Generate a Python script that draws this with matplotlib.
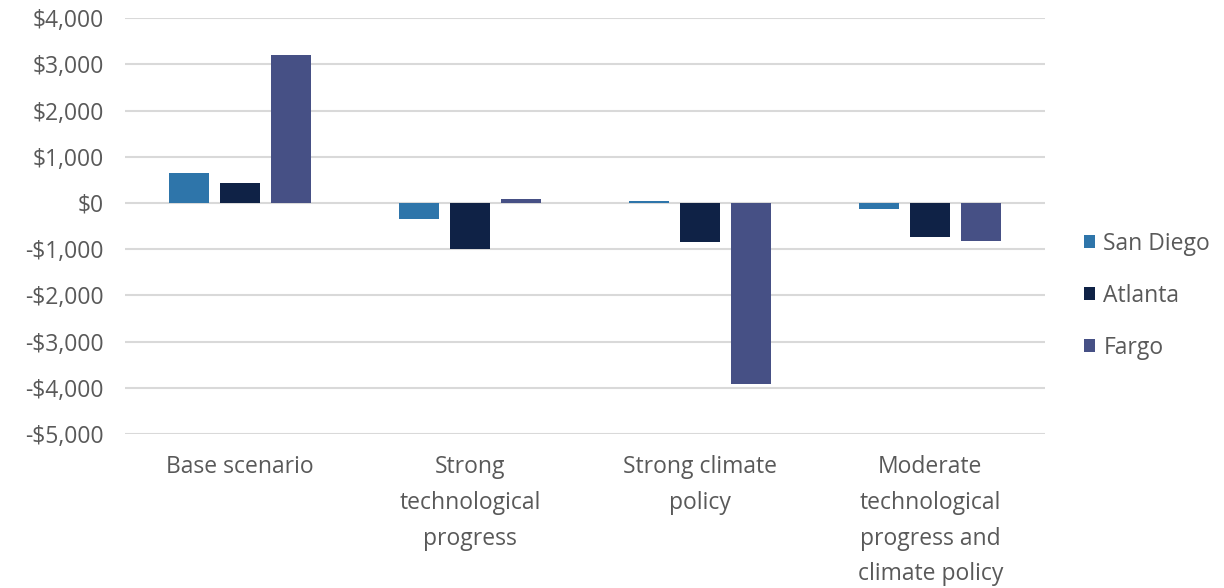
import numpy as np
import matplotlib.pyplot as plt
from matplotlib.ticker import FuncFormatter

plt.rcParams['font.family'] = ['Open Sans', 'DejaVu Sans']

# data
scenarios = ["Base scenario", "Strong\ntechnological\nprogress",
             "Strong climate\npolicy",
             "Moderate\ntechnological\nprogress and\nclimate policy"]
san_diego = [660, -340, 40, -120]
atlanta = [425, -1000, -840, -740]
fargo = [3200, 90, -3910, -830]

series = [("San Diego", san_diego, "#2E75AA"),
          ("Atlanta", atlanta, "#0F2246"),
          ("Fargo", fargo, "#465085")]

fig = plt.figure(figsize=(12.24, 5.88), dpi=100)
ax = fig.add_axes([0.102, 0.262, 0.752, 0.707])

x = np.arange(len(scenarios))
w = 0.173
step = 0.222
for i, (name, vals, col) in enumerate(series):
    ax.bar(x + (i - 1) * step, vals, width=w, color=col, label=name,
           zorder=3)

ax.set_ylim(-5000, 4000)
ax.set_yticks(np.arange(-5000, 4001, 1000))
ax.yaxis.set_major_formatter(FuncFormatter(
    lambda v, p: ("-$" if v < 0 else "$") + f"{abs(int(v)):,}"))
ax.set_xlim(-0.5, 3.5)
ax.set_xticks(x)
ax.set_xticklabels(scenarios, linespacing=1.66, va='top')

ax.grid(axis='y', color='#D9D9D9', linewidth=1.5, zorder=0)
for s in ax.spines.values():
    s.set_visible(False)
ax.tick_params(axis='both', length=0, labelsize=16.5, colors='#595959')
ax.tick_params(axis='y', pad=15)
ax.tick_params(axis='x', pad=15)

fig.legend(loc='center left', bbox_to_anchor=(0.869, 0.497), frameon=False,
           fontsize=16.5, labelcolor='#595959', handlelength=0.48,
           handleheight=0.48, handletextpad=0.35, labelspacing=1.22)

fig.savefig("out.png", dpi=100)
